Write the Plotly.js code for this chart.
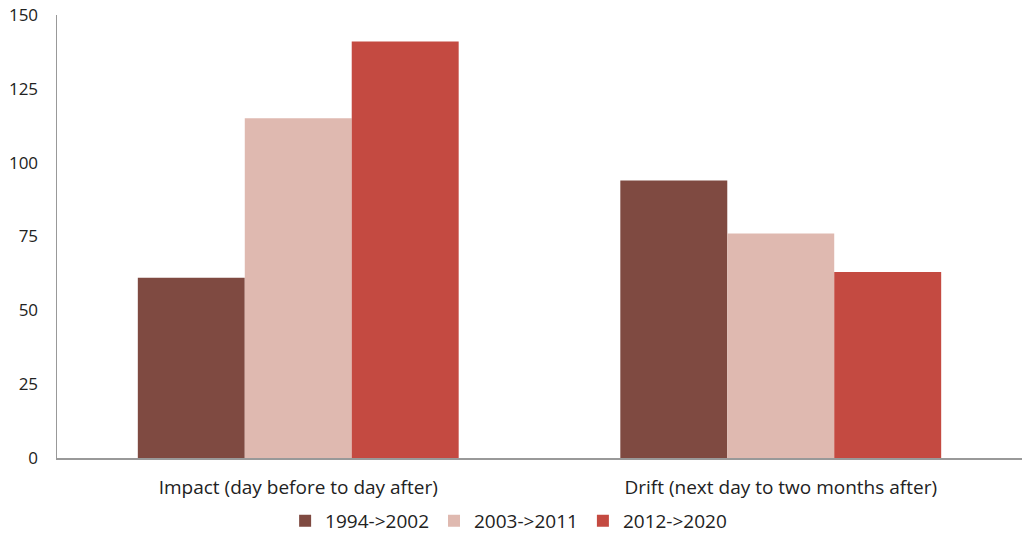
<!DOCTYPE html>
<html>
<head>
<meta charset="utf-8">
<script src="https://cdn.plot.ly/plotly-3.0.1.min.js"></script>
<style>html,body{margin:0;padding:0;background:#fff;}#chart{width:1024px;height:546px;}</style>
</head>
<body>
<div id="chart"></div>
<script>
const categories = ["Impact (day before to day after)", "Drift (next day to two months after)"];
const seriesNames = ["1994->2002", "2003->2011", "2012->2020"];
const values1994 = [61, 94];
const values2003 = [115, 76];
const values2012 = [141, 63];
const colors = ["#7F4A41", "#DFB9B0", "#C44A41"];
const yTicks = [0, 25, 50, 75, 100, 125, 150];

const allValues = [values1994, values2003, values2012];
const traces = allValues.map((v, i) => ({
  type: "bar",
  name: seriesNames[i],
  x: categories,
  y: v,
  marker: {color: colors[i], line: {width: 0}},
  hoverinfo: "y"
}));

const layout = {
  width: 1024, height: 546,
  margin: {l: 57, r: 2, t: 15, b: 88},
  paper_bgcolor: "#fff", plot_bgcolor: "#fff",
  barmode: "group", bargap: 0.335, bargroupgap: 0,
  font: {family: "Open Sans, sans-serif", size: 17, color: "#222"},
  xaxis: {
    showline: true, linecolor: "#999", linewidth: 1.5,
    ticks: "", showgrid: false, zeroline: false,
    ticklabelstandoff: 12,
    tickfont: {size: 19, family: "Open Sans, sans-serif", color: "#222"}
  },
  yaxis: {
    range: [0, 150], tickvals: yTicks, ticktext: yTicks.map(String),
    showline: true, linecolor: "#999", linewidth: 1.5,
    ticks: "", showgrid: false, zeroline: false,
    ticklabelstandoff: 14,
    tickfont: {size: 17, family: "Open Sans, sans-serif"}
  },
  legend: {
    orientation: "h", x: 0.468, xanchor: "center", y: -0.142, yanchor: "middle",
    font: {size: 19}, itemwidth: 30, traceorder: "normal"
  },
  showlegend: true
};

Plotly.newPlot("chart", traces, layout, {displayModeBar: false, staticPlot: true});
</script>
</body>
</html>
